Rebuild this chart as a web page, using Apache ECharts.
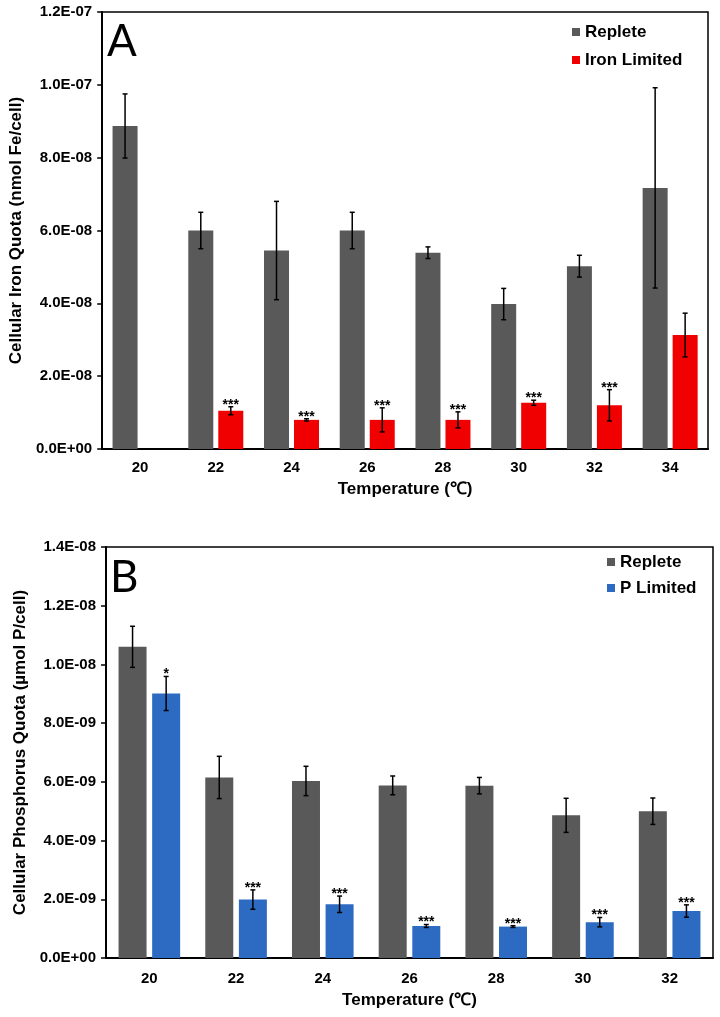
<!DOCTYPE html>
<html>
<head>
<meta charset="utf-8">
<script src="https://cdn.jsdelivr.net/npm/echarts@6/dist/echarts.min.js"></script>
<style>
  html, body { margin: 0; padding: 0; background: #fff; }
  #chart { width: 720px; height: 1017px; }
</style>
</head>
<body>
<div id="chart"></div>
<script>
// ---------- Panel A data (nmol Fe/cell) ----------
const tempsA = ['20', '22', '24', '26', '28', '30', '32', '34'];
const repleteA = [8.87e-8, 6.00e-8, 5.45e-8, 6.00e-8, 5.39e-8, 3.98e-8, 5.02e-8, 7.17e-8];
const repleteErrA = [8.8e-9, 5.0e-9, 13.5e-9, 5.0e-9, 1.6e-9, 4.3e-9, 3.0e-9, 27.5e-9];
const ironLimited = [null, 1.05e-8, 0.80e-8, 0.80e-8, 0.80e-8, 1.27e-8, 1.20e-8, 3.13e-8];
const ironLimitedErr = [null, 1.1e-9, 0.3e-9, 3.3e-9, 2.2e-9, 0.7e-9, 4.3e-9, 6.0e-9];
const sigA = ['', '***', '***', '***', '***', '***', '***', ''];
const yTicksA = { min: 0, max: 1.2e-7, interval: 2e-8 };

// ---------- Panel B data (µmol P/cell) ----------
const tempsB = ['20', '22', '24', '26', '28', '30', '32'];
const repleteB = [10.6e-9, 6.15e-9, 6.03e-9, 5.88e-9, 5.87e-9, 4.86e-9, 5.00e-9];
const repleteErrB = [0.70e-9, 0.72e-9, 0.50e-9, 0.32e-9, 0.28e-9, 0.58e-9, 0.45e-9];
const pLimited = [9.01e-9, 1.99e-9, 1.83e-9, 1.09e-9, 1.07e-9, 1.22e-9, 1.60e-9];
const pLimitedErr = [0.58e-9, 0.33e-9, 0.28e-9, 0.05e-9, 0.03e-9, 0.16e-9, 0.21e-9];
const sigB = ['*', '***', '***', '***', '***', '***', '***'];
const yTicksB = { min: 0, max: 1.4e-8, interval: 2e-9 };

// ---------- styling ----------
const GREY = '#595959', RED = '#F00000', BLUE = '#2D6AC2';
const FONT = 'Liberation Sans, Arial, sans-serif';
const BAR_A = 25, BAR_B = 28, GAP = 0.2;

function sci(v) {
  if (v === 0) return '0.0E+00';
  const s = Number(v).toExponential(1);
  const parts = s.split('e');
  const n = parseInt(parts[1], 10);
  return parts[0] + 'E' + (n < 0 ? '-' : '+') + String(Math.abs(n)).padStart(2, '0');
}

function errSeries(name, vals, errs, sig, offset, xi) {
  return {
    type: 'custom',
    name: name + ' err',
    xAxisIndex: xi, yAxisIndex: xi,
    z: 5,
    silent: true,
    data: vals.map((v, i) => [i, v == null ? NaN : v, errs[i] == null ? NaN : errs[i]]),
    renderItem: function (params, api) {
      const idx = api.value(0), v = api.value(1), e = api.value(2);
      if (isNaN(v) || isNaN(e)) return null;
      const x = api.coord([idx, v])[0] + offset;
      const yT = api.coord([idx, v + e])[1];
      const yB = api.coord([idx, v - e])[1];
      const cap = 2.5;
      const st = { stroke: '#000', lineWidth: 1.5 };
      const children = [
        { type: 'line', shape: { x1: x, y1: yT, x2: x, y2: yB }, style: st },
        { type: 'line', shape: { x1: x - cap, y1: yT, x2: x + cap, y2: yT }, style: st },
        { type: 'line', shape: { x1: x - cap, y1: yB, x2: x + cap, y2: yB }, style: st }
      ];
      const s = sig[params.dataIndex];
      if (s) {
        children.push({
          type: 'text',
          style: { text: s, x: x, y: yT - 2, align: 'center', verticalAlign: 'middle',
                   font: 'bold 14px ' + FONT, fill: '#000' }
        });
      }
      return { type: 'group', children: children };
    }
  };
}

function yAxis(gi, ticks, name, gap) {
  return {
    type: 'value', gridIndex: gi,
    min: ticks.min, max: ticks.max, interval: ticks.interval,
    name: name, nameLocation: 'middle', nameGap: gap,
    nameTextStyle: { fontFamily: FONT, fontWeight: 'bold', fontSize: 17, color: '#000' },
    axisLine: { show: true, lineStyle: { color: '#000', width: 2 } },
    axisTick: { show: true, length: 5, lineStyle: { color: '#000', width: 1.5 } },
    axisLabel: { formatter: sci, fontFamily: FONT, fontWeight: 'bold', fontSize: 15, color: '#000', margin: 10 },
    splitLine: { show: false }
  };
}

function xAxis(gi, cats, gap, labelMargin) {
  return {
    type: 'category', gridIndex: gi, data: cats,
    name: 'Temperature (℃)', nameLocation: 'middle', nameGap: gap,
    nameTextStyle: { fontFamily: FONT, fontWeight: 'bold', fontSize: 17, color: '#000' },
    axisLine: { show: true, lineStyle: { color: '#000', width: 2 } },
    axisTick: { show: false },
    axisLabel: { fontFamily: FONT, fontWeight: 'bold', fontSize: 15, color: '#000', margin: labelMargin, interval: 0 }
  };
}

const chart = echarts.init(document.getElementById('chart'), null, { renderer: 'canvas' });
chart.setOption({
  animation: false,
  backgroundColor: '#fff',
  title: [
    { text: 'A', left: 107, top: 20, padding: 0,
      textStyle: { fontFamily: 'Lato', fontSize: 44, fontWeight: 'normal', color: '#000', lineHeight: 44 } },
    { text: 'B', left: 110, top: 556, padding: 0,
      textStyle: { fontFamily: 'Lato', fontSize: 44, fontWeight: 'normal', color: '#000', lineHeight: 44 } }
  ],
  legend: [
    { data: ['Replete', 'Iron Limited'], orient: 'vertical', left: 572, top: 22, padding: 0,
      itemWidth: 8, itemHeight: 8, itemGap: 8, icon: 'rect',
      textStyle: { fontFamily: FONT, fontWeight: 'bold', fontSize: 17, color: '#000', lineHeight: 20 } },
    { data: ['Replete', 'P Limited'], orient: 'vertical', left: 607, top: 552, padding: 0,
      itemWidth: 8, itemHeight: 8, itemGap: 6, icon: 'rect',
      textStyle: { fontFamily: FONT, fontWeight: 'bold', fontSize: 17, color: '#000', lineHeight: 20 } }
  ],
  grid: [
    { left: 101, top: 12, width: 607, height: 437, show: true, borderColor: '#000', borderWidth: 1.5 },
    { left: 106, top: 547, width: 607, height: 411, show: true, borderColor: '#000', borderWidth: 1.5 }
  ],
  xAxis: [xAxis(0, tempsA, 32, 11), xAxis(1, tempsB, 34, 13)],
  yAxis: [
    yAxis(0, yTicksA, 'Cellular Iron Quota (nmol Fe/cell)', 68),
    yAxis(1, yTicksB, 'Cellular Phosphorus Quota (µmol P/cell)', 73)
  ],
  series: [
    { type: 'bar', name: 'Replete', xAxisIndex: 0, yAxisIndex: 0, data: repleteA,
      barWidth: BAR_A, barGap: (GAP * 100) + '%', itemStyle: { color: GREY } },
    { type: 'bar', name: 'Iron Limited', xAxisIndex: 0, yAxisIndex: 0, data: ironLimited,
      barWidth: BAR_A, barGap: (GAP * 100) + '%', itemStyle: { color: RED } },
    { type: 'bar', name: 'Replete', xAxisIndex: 1, yAxisIndex: 1, data: repleteB,
      barWidth: BAR_B, barGap: (GAP * 100) + '%', itemStyle: { color: GREY } },
    { type: 'bar', name: 'P Limited', xAxisIndex: 1, yAxisIndex: 1, data: pLimited,
      barWidth: BAR_B, barGap: (GAP * 100) + '%', itemStyle: { color: BLUE } },
    errSeries('Replete A', repleteA, repleteErrA, [], -BAR_A * (1 + GAP) / 2, 0),
    errSeries('Iron Limited', ironLimited, ironLimitedErr, sigA, BAR_A * (1 + GAP) / 2, 0),
    errSeries('Replete B', repleteB, repleteErrB, [], -BAR_B * (1 + GAP) / 2, 1),
    errSeries('P Limited', pLimited, pLimitedErr, sigB, BAR_B * (1 + GAP) / 2, 1)
  ]
});
</script>
</body>
</html>
